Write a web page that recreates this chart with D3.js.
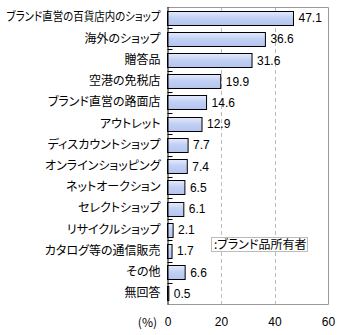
<!DOCTYPE html>
<html><head><meta charset="utf-8">
<script src="https://cdn.jsdelivr.net/npm/d3@7"></script>
<style>
body{margin:0;background:#fff;}
text{font-family:"Noto Sans CJK JP",sans-serif;font-feature-settings:"palt";}
</style></head>
<body><svg id="c" width="340" height="335"></svg>
<script>
const categories = ["ブランド直営の百貨店内のショップ","海外のショップ","贈答品","空港の免税店","ブランド直営の路面店","アウトレット","ディスカウントショップ","オンラインショッピング","ネットオークション","セレクトショップ","リサイクルショップ","カタログ等の通信販売","その他","無回答"];
const values = [47.1,36.6,31.6,19.9,14.6,12.9,7.7,7.4,6.5,6.1,2.1,1.7,6.6,0.5];
const xTicks = [0,20,40,60];
const legendLabel = ":ブランド品所有者";
const unitLabel = "(%)";

const svg = d3.select("#c");
const L = 167.5, R = 328, T = 7, B = 304;
const x = d3.scaleLinear().domain([0,60]).range([L,R]);
const y = d3.scaleBand().domain(categories).range([T,B]).paddingInner(0.34).paddingOuter(0.17);

const defs = svg.append("defs");
const g = defs.append("linearGradient").attr("id","bg").attr("x1",0).attr("x2",0).attr("y1",0).attr("y2",1);
g.append("stop").attr("offset","0%").attr("stop-color","#e4ebfc");
g.append("stop").attr("offset","45%").attr("stop-color","#c2d0f4");
g.append("stop").attr("offset","100%").attr("stop-color","#b4c4ef");

// grid
svg.selectAll(".grid").data([20,40]).enter().append("line")
  .attr("x1",d=>Math.round(x(d))+0.5).attr("x2",d=>Math.round(x(d))+0.5)
  .attr("y1",T).attr("y2",B).attr("stroke","#bbb").attr("stroke-dasharray","4,3");
// border
svg.append("path").attr("d",`M${L},${T+0.5}H${R+0.5}V${B+0.5}H${L}`).attr("fill","none").attr("stroke","#999");

// bars
svg.selectAll(".bar").data(values).enter().append("rect")
  .attr("x",x(0)).attr("y",(d,i)=>Math.round(y(categories[i]))+0.5)
  .attr("width",d=>x(d)-x(0)).attr("height",Math.round(y.bandwidth()))
  .attr("fill","url(#bg)").attr("stroke","#000").attr("stroke-width",1);

// value labels
svg.selectAll(".val").data(values).enter().append("text")
  .attr("x",d=>x(d)+5).attr("y",(d,i)=>y(categories[i])+y.bandwidth()/2+4.5)
  .attr("font-size",12).attr("fill","#000")
  .style("font-family","'Liberation Sans',Arial,sans-serif")
  .text(d=>d.toFixed(1));

// y axis
const yAxis = d3.axisLeft(y).tickSize(0).tickPadding(7);
const ya = svg.append("g").attr("transform",`translate(${L},0)`).call(yAxis);
ya.select(".domain").attr("stroke","#000").attr("d",`M0.5,${T}V${B+0.5}`);
ya.selectAll("text").attr("font-size",12).attr("fill","#000").style("font-family","'Noto Sans CJK JP',sans-serif")
  .each(function(){ const w=this.getComputedTextLength(); if(w>154){ d3.select(this).attr("textLength",154).attr("lengthAdjust","spacingAndGlyphs"); } });
// band boundary ticks
const bounds = d3.range(1,categories.length).map(i=>T+(B-T)*i/categories.length);
svg.selectAll(".bt").data(bounds).enter().append("line")
  .attr("x1",L).attr("x2",L+5).attr("y1",d=>Math.round(d)+0.5).attr("y2",d=>Math.round(d)+0.5)
  .attr("stroke","#000");

// x axis
const xa = svg.append("g").attr("transform",`translate(0,${B})`).call(d3.axisBottom(x).tickValues(xTicks).tickSize(0).tickPadding(13));
xa.select(".domain").remove();
xa.selectAll("text").attr("font-size",12).attr("fill","#000").style("font-family","'Liberation Sans',Arial,sans-serif");
svg.append("text").attr("x",157).attr("y",327).attr("text-anchor","end").attr("font-size",12).text(unitLabel);

// legend
svg.append("rect").attr("x",211.5).attr("y",237.5).attr("width",96).attr("height",14).attr("fill","#fff").attr("stroke","#bbb");
svg.append("text").attr("x",214).attr("y",249).attr("font-size",12).text(legendLabel);
</script></body></html>
